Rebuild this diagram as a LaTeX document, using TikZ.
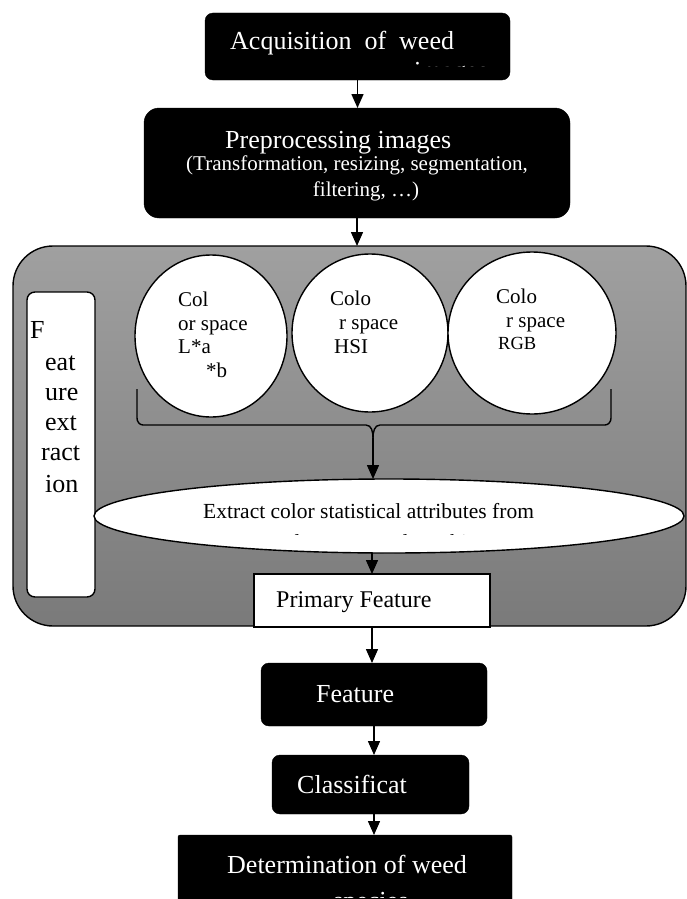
\documentclass[tikz,border=0pt]{standalone}
\usepackage{fontspec}
\setmainfont{Liberation Serif}
\usetikzlibrary{arrows.meta,shapes.geometric}
\definecolor{gtop}{RGB}{160,160,160}
\definecolor{gbot}{RGB}{122,122,122}
\begin{document}
\begin{tikzpicture}[x=1pt,y=-1pt,
  blk/.style={draw=black,fill=black,inner sep=0pt,outer sep=0pt},
  wt/.style={text=white,anchor=base west,inner sep=0pt},
  bt/.style={text=black,anchor=base west,inner sep=0pt},
  arr/.style={line width=1.5pt,-{Triangle[width=12pt,length=14pt]}},
  circ/.style={ellipse,draw=black,line width=1.4pt,fill=white,inner sep=0pt,outer sep=0pt},
  fA/.style={font=\fontsize{26}{30}\selectfont},
  fB/.style={font=\fontsize{21}{25}\selectfont},
  fC/.style={font=\fontsize{21.5}{25}\selectfont},
  fD/.style={font=\fontsize{18.5}{22}\selectfont},
  fE/.style={font=\fontsize{24}{28}\selectfont},
]
\useasboundingbox (0,0) rectangle (687,899);

% gray feature-extraction region
\node[draw=black,line width=1.4pt,rounded corners=40pt,top color=gtop,bottom color=gbot,
      minimum width=673pt,minimum height=380pt,inner sep=0pt,outer sep=0pt] (gray) at (349.5,436) {};

% black boxes
\node[blk,rounded corners=8pt,minimum width=305pt,minimum height=67pt] (top) at (357.5,46.5) {};
\node[blk,rounded corners=15pt,minimum width=426pt,minimum height=110pt] (pre) at (357,163) {};
\node[blk,rounded corners=8pt,minimum width=226pt,minimum height=63pt] (feat) at (374,694.5) {};
\node[blk,rounded corners=8pt,minimum width=197pt,minimum height=59pt] (cls) at (370.5,784.5) {};
\node[blk,rounded corners=2pt,minimum width=334pt,minimum height=72pt] (bot) at (345,871) {};

% left label box
\node[draw=black,line width=1.4pt,fill=white,rounded corners=8pt,minimum width=68pt,
      minimum height=305pt,inner sep=0pt,outer sep=0pt] (fe) at (61,444.5) {};

% circles
\node[circ,minimum width=152pt,minimum height=162pt] (c1) at (211,336) {};
\node[circ,minimum width=156pt,minimum height=158pt] (c2) at (370,333) {};
\node[circ,minimum width=168pt,minimum height=162pt] (c3) at (532,333) {};

% ellipse
\node[circ,minimum width=590pt,minimum height=74pt] (ell) at (389,516) {};

% primary feature box
\node[draw=black,line width=1.6pt,fill=white,minimum width=236pt,minimum height=53pt,
      inner sep=0pt,outer sep=0pt] (prim) at (372,600.5) {};

% texts in black boxes
\node[wt,fA] (t1) at (230,50) {Acquisition\ \ of\ \ weed};
\begin{scope}
  \clip (205,13) rectangle (510,67);
  \node[wt,fA] (t1b) at (414,80) {images};
\end{scope}
\node[wt,fA] (t2) at (225,148) {Preprocessing images};
\node[wt,fB,anchor=base] (t3) at (357,170) {(Transformation, resizing, segmentation,};
\node[wt,fB,anchor=base] (t4) at (366,196) {filtering, …)};
\node[wt,fA] (t5) at (316,702) {Feature};
\node[wt,fA] (t6) at (297,793) {Classificat};
\node[wt,fA] (t7) at (227,873) {Determination of weed};
\begin{scope}
  \clip (178,835) rectangle (512,897);
  \node[wt,fA] (t7b) at (333,909) {species};
\end{scope}

% feature extraction label
\node[bt,fA] (fF) at (30,338) {F};
\node[bt,fA] (fa) at (45,370) {eat};
\node[bt,fA] (fb) at (45,400) {ure};
\node[bt,fA] (fc) at (45,430) {ext};
\node[bt,fA] (fd) at (41,460) {ract};
\node[bt,fA] (ff) at (45,492) {ion};

% circle texts
\node[bt,fB] (a1) at (178,306) {Col};
\node[bt,fB] (a2) at (178,330) {or space};
\node[bt,fB] (a3) at (178,353) {L*a};
\node[bt,fB] (a4) at (206,377) {*b};
\node[bt,fB] (b1) at (330,305) {Colo};
\node[bt,fB] (b2) at (339,329) {r space};
\node[bt,fB] (b3) at (334,353) {HSI};
\node[bt,fB] (d1) at (496,303) {Colo};
\node[bt,fB] (d2) at (506,327) {r space};
\node[bt,fD] (d3) at (498,349) {RGB};

% ellipse text
\node[bt,fC] (e1) at (203,518) {Extract color statistical attributes from};
\begin{scope}
  \clip (94,479) rectangle (684,534);
  \node[bt,fC] (e2) at (252,549) {to color space and combine};
\end{scope}

% primary feature text
\node[bt,fE] (p1) at (276,607) {Primary Feature};

% brace
\coordinate (bl) at (137,389);
\coordinate (br) at (611,389);
\coordinate (cusp) at (373,438);
\draw[line width=1.4pt] (bl) -- (137,418) to[out=-90,in=180] (143,425) -- (366,425)
      to[out=0,in=90] (cusp);
\draw[line width=1.4pt] (br) -- (611,418) to[out=-90,in=0] (605,425) -- (380,425)
      to[out=180,in=90] (cusp);

% arrows
\draw[arr] (top.south) -- (top.south |- pre.north);
\draw[arr] (pre.south) -- (pre.south |- gray.north);
\draw[arr] (cusp) -- (cusp |- ell.north);
\draw[arr] (prim.north |- ell.south) -- (prim.north);
\draw[arr] (prim.south) -- (prim.south |- feat.north);
\draw[arr] (feat.south) -- (feat.south |- cls.north);
\draw[arr] (feat.south |- cls.south) -- (feat.south |- bot.north);
\end{tikzpicture}
\end{document}
